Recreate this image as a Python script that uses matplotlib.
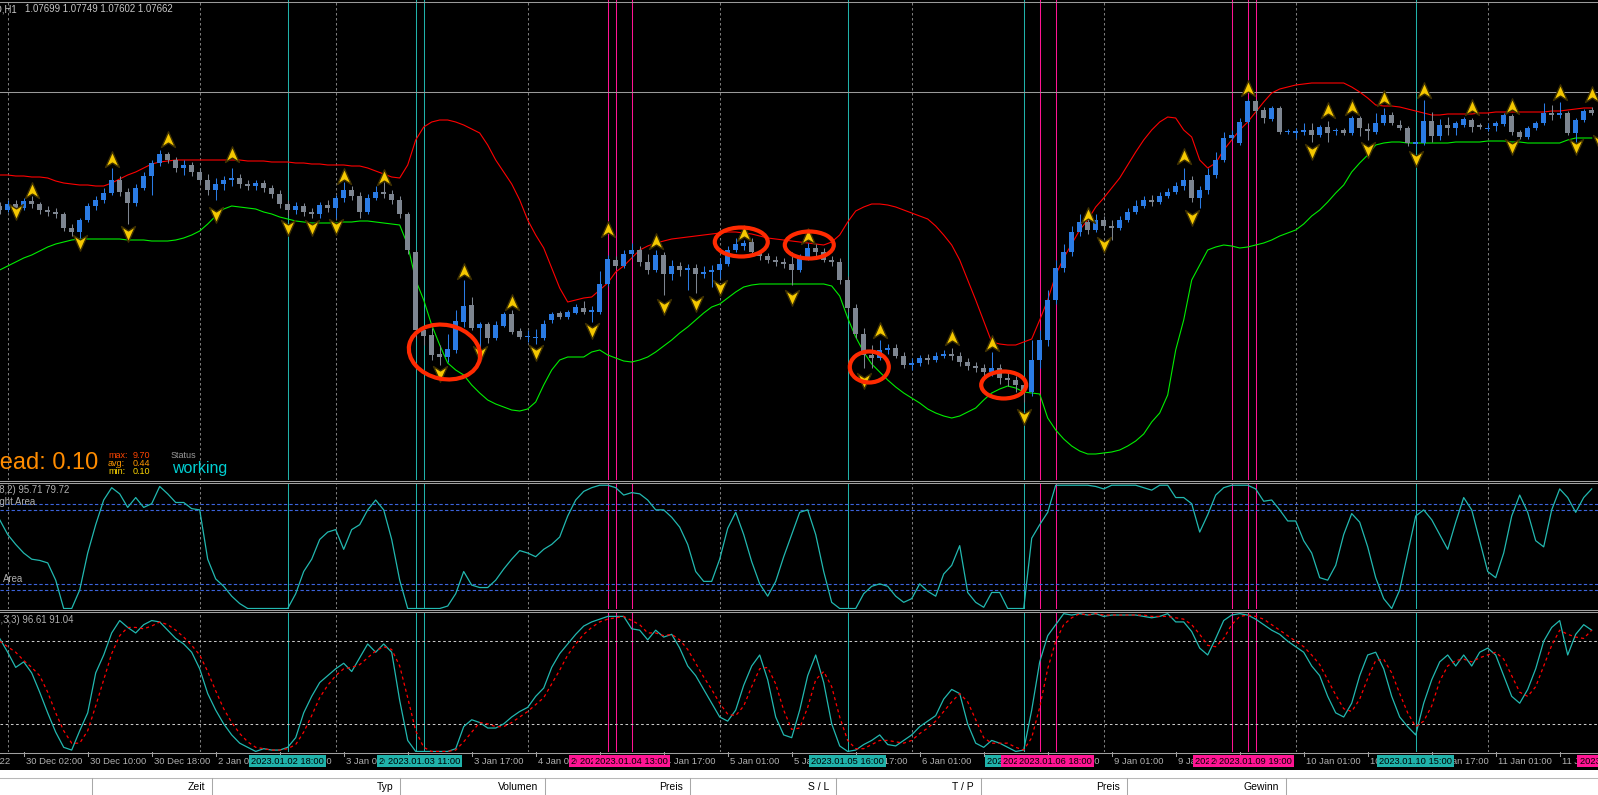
import matplotlib
matplotlib.use("Agg")
import matplotlib.pyplot as plt
import numpy as np
from matplotlib.patches import Rectangle, Ellipse
from matplotlib.lines import Line2D
from matplotlib.path import Path
from matplotlib import transforms

plt.rcParams['font.family'] = ['Liberation Sans', 'DejaVu Sans']

W, H = 1598, 795

# ---------------- data (prices in pips, 1 pip = 0.0001) ----------------
open_pips = [
    10654, 10650, 10656, 10652, 10659, 10656, 10650, 10648, 10646, 10632,
    10628, 10640, 10654, 10660, 10667, 10680, 10668, 10657, 10672, 10684,
    10697, 10706, 10700, 10692, 10695, 10688, 10680, 10670, 10676, 10680,
    10682, 10676, 10674, 10677, 10672, 10666, 10656, 10650, 10654, 10648,
    10646, 10655, 10652, 10662, 10670, 10664, 10648, 10662, 10668, 10666,
    10660, 10646, 10608, 10530, 10525, 10506, 10503, 10510, 10538, 10555,
    10532, 10536, 10522, 10534, 10546, 10529, 10523, 10522, 10522, 10540,
    10547, 10543, 10547, 10552, 10548, 10548, 10576, 10600, 10594, 10606,
    10610, 10598, 10590, 10605, 10586, 10594, 10590, 10592, 10586, 10588,
    10590, 10596, 10610, 10614, 10618, 10608, 10604, 10600, 10598, 10596,
    10590, 10602, 10612, 10608, 10600, 10598, 10580, 10552, 10526, 10505,
    10502, 10510, 10512, 10504, 10495, 10497, 10502, 10500, 10504, 10506,
    10504, 10498, 10494, 10492, 10488, 10492, 10482, 10480, 10475, 10468,
    10500, 10520, 10560, 10592, 10608, 10628, 10638, 10630, 10640, 10634,
    10632, 10640, 10648, 10654, 10660, 10658, 10664, 10668, 10674, 10680,
    10662, 10670, 10685, 10700, 10722, 10717, 10738, 10759, 10750, 10741,
    10752, 10728, 10727, 10728, 10730, 10725, 10733, 10729, 10730, 10727,
    10742, 10731, 10728, 10737, 10745, 10735, 10732, 10716, 10717, 10739,
    10724, 10735, 10732, 10735, 10740, 10735, 10731, 10734, 10736, 10744,
    10728, 10723, 10732, 10737, 10747, 10745, 10747, 10727, 10740, 10750]
high_pips = [
    10658, 10660, 10660, 10662, 10664, 10658, 10654, 10652, 10648, 10636,
    10642, 10657, 10664, 10672, 10692, 10684, 10672, 10676, 10688, 10700,
    10710, 10708, 10703, 10700, 10698, 10692, 10686, 10682, 10684, 10692,
    10686, 10680, 10680, 10680, 10675, 10670, 10660, 10658, 10657, 10652,
    10658, 10660, 10665, 10678, 10674, 10668, 10666, 10674, 10678, 10670,
    10664, 10648, 10610, 10534, 10532, 10515, 10526, 10550, 10580, 10563,
    10538, 10538, 10539, 10548, 10550, 10532, 10530, 10531, 10540, 10548,
    10549, 10550, 10556, 10559, 10554, 10589, 10605, 10604, 10610, 10617,
    10614, 10606, 10610, 10608, 10600, 10598, 10596, 10596, 10594, 10595,
    10602, 10614, 10622, 10620, 10622, 10610, 10607, 10604, 10602, 10608,
    10606, 10617, 10616, 10612, 10604, 10602, 10584, 10556, 10532, 10515,
    10520, 10516, 10516, 10508, 10502, 10505, 10506, 10508, 10510, 10512,
    10508, 10502, 10498, 10496, 10508, 10496, 10488, 10484, 10480, 10520,
    10530, 10570, 10600, 10616, 10634, 10646, 10642, 10646, 10644, 10640,
    10644, 10652, 10660, 10664, 10665, 10668, 10672, 10678, 10692, 10684,
    10674, 10692, 10708, 10728, 10730, 10742, 10761, 10761, 10753, 10754,
    10754, 10731, 10732, 10737, 10737, 10735, 10739, 10732, 10732, 10744,
    10744, 10737, 10747, 10752, 10748, 10740, 10734, 10720, 10760, 10748,
    10741, 10743, 10739, 10743, 10742, 10737, 10737, 10739, 10747, 10746,
    10730, 10734, 10739, 10757, 10755, 10758, 10749, 10742, 10751, 10753]
low_pips = [
    10646, 10648, 10648, 10650, 10652, 10646, 10644, 10642, 10629, 10624,
    10622, 10638, 10650, 10657, 10665, 10664, 10636, 10654, 10670, 10665,
    10694, 10697, 10688, 10685, 10684, 10676, 10665, 10660, 10670, 10674,
    10672, 10670, 10670, 10668, 10662, 10652, 10644, 10646, 10644, 10642,
    10642, 10648, 10642, 10658, 10660, 10642, 10646, 10660, 10662, 10656,
    10642, 10606, 10522, 10515, 10500, 10495, 10498, 10507, 10533, 10530,
    10503, 10517, 10520, 10533, 10526, 10521, 10518, 10516, 10520, 10537,
    10541, 10541, 10546, 10546, 10538, 10546, 10574, 10592, 10592, 10602,
    10594, 10586, 10588, 10565, 10580, 10584, 10570, 10567, 10582, 10573,
    10582, 10594, 10608, 10610, 10605, 10600, 10597, 10594, 10592, 10575,
    10588, 10600, 10604, 10598, 10594, 10576, 10548, 10522, 10492, 10492,
    10500, 10506, 10502, 10492, 10490, 10494, 10496, 10498, 10502, 10500,
    10494, 10490, 10488, 10484, 10484, 10476, 10474, 10468, 10458, 10464,
    10492, 10514, 10556, 10588, 10604, 10624, 10626, 10628, 10630, 10620,
    10630, 10638, 10646, 10652, 10654, 10656, 10662, 10666, 10670, 10658,
    10652, 10666, 10682, 10698, 10720, 10715, 10736, 10746, 10737, 10739,
    10726, 10726, 10722, 10725, 10718, 10723, 10718, 10725, 10725, 10725,
    10724, 10720, 10726, 10735, 10735, 10730, 10714, 10714, 10715, 10718,
    10720, 10725, 10725, 10733, 10728, 10731, 10729, 10729, 10734, 10725,
    10721, 10721, 10730, 10735, 10740, 10742, 10725, 10718, 10738, 10745]
close_pips = [
    10650, 10656, 10652, 10659, 10656, 10650, 10648, 10646, 10632, 10628,
    10640, 10654, 10660, 10667, 10680, 10668, 10657, 10672, 10684, 10697,
    10706, 10700, 10692, 10695, 10688, 10680, 10670, 10676, 10680, 10682,
    10676, 10674, 10677, 10672, 10666, 10656, 10650, 10654, 10648, 10646,
    10655, 10652, 10662, 10670, 10664, 10648, 10662, 10668, 10666, 10660,
    10646, 10610, 10530, 10524, 10505, 10503, 10511, 10539, 10554, 10532,
    10536, 10522, 10535, 10546, 10528, 10523, 10523, 10522, 10536, 10546,
    10543, 10548, 10553, 10548, 10550, 10576, 10601, 10594, 10606, 10610,
    10598, 10590, 10605, 10586, 10594, 10590, 10592, 10586, 10588, 10590,
    10596, 10610, 10616, 10617, 10608, 10604, 10600, 10598, 10596, 10590,
    10602, 10612, 10608, 10600, 10598, 10580, 10552, 10526, 10505, 10502,
    10510, 10512, 10504, 10495, 10497, 10502, 10500, 10504, 10506, 10504,
    10498, 10494, 10492, 10488, 10492, 10482, 10480, 10475, 10468, 10500,
    10520, 10560, 10592, 10608, 10628, 10638, 10630, 10640, 10634, 10632,
    10640, 10648, 10654, 10660, 10658, 10664, 10668, 10674, 10680, 10662,
    10670, 10685, 10700, 10722, 10725, 10738, 10759, 10749, 10742, 10752,
    10728, 10729, 10729, 10730, 10725, 10733, 10727, 10730, 10727, 10742,
    10732, 10729, 10737, 10745, 10737, 10732, 10717, 10718, 10739, 10724,
    10735, 10732, 10737, 10741, 10733, 10733, 10732, 10737, 10745, 10728,
    10723, 10732, 10737, 10747, 10745, 10747, 10727, 10740, 10749, 10747]
upper_band = [
    10685, 10685, 10684, 10684, 10683, 10683, 10682, 10679, 10677, 10676,
    10675, 10675, 10674, 10674, 10677, 10681, 10685, 10688, 10692, 10696,
    10698, 10699, 10700, 10700, 10700, 10700, 10700, 10700, 10700, 10700,
    10700, 10699, 10699, 10699, 10698, 10698, 10698, 10697, 10697, 10696,
    10696, 10695, 10695, 10695, 10694, 10694, 10692, 10689, 10686, 10683,
    10682, 10695, 10720, 10733, 10738, 10740, 10740, 10738, 10735, 10731,
    10727, 10715, 10700, 10688, 10676, 10660, 10640, 10625, 10612, 10592,
    10572, 10558, 10560, 10562, 10563, 10570, 10577, 10588, 10594, 10602,
    10610, 10614, 10617, 10619, 10621, 10622, 10623, 10624, 10625, 10626,
    10627, 10628, 10628, 10627, 10626, 10624, 10622, 10621, 10620, 10619,
    10618, 10617, 10616, 10615, 10618, 10625, 10638, 10649, 10653, 10656,
    10656, 10655, 10653, 10650, 10647, 10644, 10641, 10634, 10625, 10615,
    10600, 10580, 10560, 10539, 10518, 10516, 10515, 10515, 10518, 10521,
    10540, 10560, 10585, 10602, 10616, 10630, 10640, 10653, 10662, 10672,
    10682, 10695, 10708, 10720, 10730, 10738, 10743, 10742, 10730, 10723,
    10700, 10692, 10697, 10710, 10720, 10730, 10738, 10748, 10758, 10767,
    10771, 10773, 10775, 10776, 10777, 10777, 10777, 10777, 10777, 10773,
    10768, 10762, 10755, 10754, 10754, 10753, 10751, 10749, 10747, 10745,
    10745, 10746, 10746, 10746, 10746, 10747, 10747, 10748, 10748, 10748,
    10748, 10748, 10748, 10748, 10749, 10749, 10750, 10751, 10752, 10752]
lower_band = [
    10590, 10594, 10598, 10602, 10605, 10609, 10613, 10616, 10618, 10620,
    10621, 10621, 10621, 10621, 10621, 10621, 10620, 10620, 10620, 10619,
    10619, 10619, 10620, 10622, 10625, 10629, 10636, 10644, 10651, 10654,
    10653, 10652, 10651, 10648, 10646, 10643, 10641, 10639, 10638, 10637,
    10637, 10637, 10637, 10638, 10638, 10639, 10639, 10638, 10637, 10636,
    10635, 10615, 10580, 10560, 10535, 10515, 10497, 10490, 10485, 10475,
    10467, 10460, 10456, 10453, 10450, 10449, 10451, 10458, 10475, 10490,
    10500, 10503, 10503, 10503, 10508, 10510, 10505, 10502, 10499, 10498,
    10500, 10503, 10508, 10514, 10520, 10527, 10533, 10540, 10547, 10553,
    10556, 10562, 10568, 10573, 10575, 10576, 10576, 10576, 10576, 10576,
    10576, 10576, 10576, 10576, 10574, 10564, 10542, 10523, 10508, 10496,
    10488, 10480, 10473, 10467, 10462, 10457, 10451, 10447, 10444, 10442,
    10444, 10448, 10452, 10460, 10467, 10471, 10474, 10472, 10468, 10467,
    10466, 10442, 10430, 10421, 10414, 10409, 10406, 10406, 10407, 10408,
    10410, 10414, 10419, 10426, 10438, 10447, 10465, 10510, 10540, 10580,
    10595, 10610, 10613, 10615, 10614, 10612, 10613, 10615, 10617, 10620,
    10624, 10627, 10630, 10636, 10644, 10650, 10658, 10667, 10675, 10688,
    10697, 10705, 10715, 10717, 10718, 10718, 10717, 10717, 10717, 10717,
    10717, 10717, 10718, 10718, 10718, 10718, 10719, 10719, 10719, 10718,
    10718, 10717, 10717, 10717, 10717, 10717, 10720, 10722, 10722, 10722]

# oscillator in the first sub window (0..100)
osc1 = [
    72, 60, 52, 45, 40, 39, 37, 23, 0, 0, 15, 45, 68, 88, 98, 93, 82, 90, 82, 85,
    99, 93, 86, 86, 81, 80, 40, 24, 18, 10, 4, 0, 0, 0, 0, 0, 0, 12, 30, 40,
    56, 62, 64, 48, 64, 68, 80, 88, 80, 56, 23, 0, 0, 0, 0, 0, 2, 12, 30, 19,
    17, 17, 23, 32, 40, 47, 45, 42, 48, 52, 58, 75, 88, 95, 98, 100, 100, 98, 92, 94,
    93, 88, 80, 80, 74, 66, 52, 30, 22, 22, 40, 65, 78, 60, 38, 20, 10, 22, 42, 60,
    78, 80, 60, 30, 5, 0, 0, 0, 12, 18, 20, 18, 10, 5, 8, 20, 14, 10, 28, 35,
    51, 13, 5, 1, 13, 13, 0, 0, 0, 57, 68, 78, 100, 100, 100, 100, 100, 99, 97, 100,
    100, 100, 100, 98, 96, 100, 100, 90, 90, 85, 62, 76, 92, 98, 100, 100, 100, 97, 87, 88,
    80, 71, 71, 55, 45, 25, 23, 35, 60, 77, 70, 50, 25, 8, 0, 15, 45, 75, 80, 72,
    60, 48, 70, 90, 80, 55, 30, 25, 45, 75, 92, 78, 55, 50, 80, 97, 90, 78, 90, 97]
osc1_levels = [85, 80, 20, 15]

# stochastic in the second sub window
stoch_k = [
    82, 72, 61, 65, 57, 43, 28, 14, 3, 1, 15, 28, 57, 70, 86, 95, 90, 86, 92, 95,
    94, 88, 82, 78, 72, 60, 42, 30, 20, 12, 6, 3, 0, 2, 1, 1, 3, 10, 28, 40,
    50, 55, 60, 64, 58, 68, 78, 72, 78, 72, 37, 8, 0, 0, 0, 0, 0, 2, 18, 23,
    21, 17, 17, 20, 25, 29, 32, 40, 46, 61, 71, 78, 85, 91, 94, 96, 98, 98, 98, 89,
    88, 81, 88, 83, 85, 75, 62, 55, 45, 35, 25, 22, 30, 48, 62, 70, 52, 25, 12, 10,
    30, 55, 70, 50, 20, 4, 0, 1, 5, 8, 12, 5, 4, 8, 12, 18, 22, 26, 38, 45,
    42, 20, 6, 3, 8, 6, 3, 0, 1, 30, 65, 84, 92, 100, 99, 100, 99, 100, 98, 99,
    99, 99, 99, 98, 97, 98, 100, 94, 94, 87, 75, 70, 82, 95, 99, 100, 99, 96, 92, 88,
    85, 80, 76, 72, 62, 55, 40, 28, 25, 35, 55, 70, 72, 60, 40, 25, 18, 12, 35, 52,
    65, 70, 62, 70, 62, 72, 75, 70, 55, 40, 35, 45, 60, 80, 90, 95, 70, 85, 92, 88]
stoch_d = [
    80, 76, 72, 66, 61, 55, 43, 28, 15, 6, 6, 15, 33, 52, 71, 84, 90, 90, 89, 91,
    94, 92, 88, 83, 77, 70, 58, 44, 31, 21, 13, 7, 3, 2, 1, 1, 2, 5, 14, 26,
    39, 48, 55, 60, 61, 63, 68, 73, 76, 74, 62, 39, 15, 3, 0, 0, 0, 1, 7, 14,
    21, 20, 18, 18, 21, 25, 29, 34, 39, 49, 59, 70, 78, 85, 90, 94, 96, 97, 98, 95,
    92, 86, 86, 84, 85, 81, 74, 64, 54, 45, 35, 27, 26, 33, 47, 60, 61, 49, 30, 16,
    17, 32, 52, 58, 47, 25, 8, 2, 2, 5, 8, 8, 7, 6, 8, 13, 17, 22, 29, 36,
    42, 36, 23, 10, 6, 6, 6, 3, 1, 10, 32, 60, 80, 92, 97, 100, 99, 100, 99, 99,
    99, 99, 99, 99, 98, 98, 98, 97, 96, 92, 85, 77, 76, 82, 92, 98, 99, 98, 96, 92,
    88, 84, 80, 76, 70, 63, 52, 41, 31, 29, 38, 53, 66, 67, 57, 42, 28, 18, 22, 33,
    51, 62, 66, 67, 65, 68, 70, 72, 67, 55, 43, 40, 47, 62, 77, 88, 85, 83, 82, 88]
stoch_levels = [80, 20]

# signal arrows (bar index, price in pips)
up_bars = [4, 14, 21, 29, 43, 48, 58, 64, 76, 82, 93, 101, 110, 119, 124, 136,
           148, 156, 166, 169, 173, 178, 184, 189, 195, 199]
up_pips = [10669, 10700, 10720, 10705, 10683, 10682, 10588, 10557, 10630, 10618,
           10626, 10623, 10529, 10522, 10516, 10644, 10703, 10771, 10749, 10752,
           10761, 10769, 10752, 10753, 10767, 10765]
down_bars = [2, 10, 16, 27, 36, 39, 42, 55, 60, 67, 74, 83, 87, 90, 99, 108, 128,
             138, 149, 164, 171, 177, 189, 197, 200]
down_pips = [10649, 10618, 10627, 10646, 10633, 10633, 10634, 10487, 10507, 10508,
             10530, 10554, 10557, 10573, 10563, 10480, 10444, 10616, 10643, 10709,
             10711, 10702, 10714, 10714, 10718]

# hand-drawn red circles: bar, price (pips), width px, height px, angle
circles = [(55.6, 10508, 72, 54, -12), (92.7, 10618, 53, 29, 0),
           (101.2, 10615, 49, 27, 0), (108.7, 10493, 39, 31, 0),
           (125.5, 10475, 45, 27, 0)]

# vertical line objects (bar index, label, colour)
vlines_obj = [
    (36, "2023.01.02 18:00", "teal"), (52, "2023.01.03 10:00", "teal"),
    (53, "2023.01.03 11:00", "teal"), (76, "2023.01.04 10:00", "pink"),
    (77, "2023.01.04 11:00", "pink"), (79, "2023.01.04 13:00", "pink"),
    (106, "2023.01.05 16:00", "teal"), (128, "2023.01.06 14:00", "teal"),
    (130, "2023.01.06 16:00", "pink"), (132, "2023.01.06 18:00", "pink"),
    (154, "2023.01.09 16:00", "pink"), (156, "2023.01.09 18:00", "pink"),
    (157, "2023.01.09 19:00", "pink"), (177, "2023.01.10 15:00", "teal"),
    (202, "2023.01.11 16:00", "pink")]

day_starts = [1, 25, 42, 66, 90, 114, 138, 162, 186]

tick_bars = [3, 11, 19, 27, 35, 43, 51, 59, 67, 75, 83, 91, 99, 107, 115, 123,
             131, 139, 147, 155, 163, 171, 179, 187, 195]
tick_labels = ["30 Dec 02:00", "30 Dec 10:00", "30 Dec 18:00", "2 Jan 09:00",
               "2 Jan 17:00", "3 Jan 01:00", "3 Jan 09:00", "3 Jan 17:00",
               "4 Jan 01:00", "4 Jan 09:00", "4 Jan 17:00", "5 Jan 01:00",
               "5 Jan 09:00", "5 Jan 17:00", "6 Jan 01:00", "6 Jan 09:00",
               "6 Jan 17:00", "9 Jan 01:00", "9 Jan 09:00", "9 Jan 17:00",
               "10 Jan 01:00", "10 Jan 09:00", "10 Jan 17:00", "11 Jan 01:00",
               "11 Jan 09:00"]

table_cols = ["Zeit", "Typ", "Volumen", "Preis", "S / L", "T / P", "Preis", "Gewinn"]
table_seps = [92, 212, 400, 545, 690, 836, 981, 1127, 1286]

# ---------------- styling ----------------
BULL = '#2A7BE4'
BEAR = '#7D8590'
TEAL = '#20B2AA'
PINK = '#FF1493'
CYAN = '#22B8B0'
GRID = '#7A7A7A'
SEP = '#A0A0A0'
TXT = '#B0B0B0'

X0, X1 = 0.3 / 8, (W + 0.3) / 8


def fx(x):
    return x / W


def fy(y):
    return 1 - y / H


fig = plt.figure(figsize=(W / 100, H / 100), dpi=100)
fig.patch.set_facecolor('black')


def panel(top, bottom):
    a = fig.add_axes([0, 1 - bottom / H, 1, (bottom - top) / H])
    a.set_facecolor('black')
    a.set_xlim(X0, X1)
    a.set_xticks([])
    a.set_yticks([])
    for s in a.spines.values():
        s.set_visible(False)
    return a


ax = panel(0, 480)
ax1 = panel(483, 609)
ax2 = panel(612, 752)
axt = panel(752, 770)

ax.set_ylim(1.0380, 1.0860)
ax1.set_ylim(-0.4, 101.8)
ax2.set_ylim(-0.4, 101.2)
axt.set_ylim(0, 1)

# grid / object lines in all three windows
for a in (ax, ax1, ax2):
    for b in day_starts:
        a.axvline(b, color=GRID, lw=0.75, ls=(0, (2.4, 2.4)), zorder=1)
    for b, _, kind in vlines_obj:
        a.axvline(b, color=TEAL if kind == "teal" else PINK, lw=0.75, zorder=1)

# ---- main window ----
o = np.array(open_pips) / 10000
h = np.array(high_pips) / 10000
l = np.array(low_pips) / 10000
c = np.array(close_pips) / 10000
x = np.arange(len(c))
cols = np.where(c >= o, BULL, BEAR)
ax.vlines(x, l, h, colors=cols, lw=0.75, zorder=3)
body = np.maximum(np.abs(c - o), 0.00009)
ax.bar(x, body, bottom=np.minimum(o, c), width=0.64, color=cols, lw=0, zorder=3)

ax.plot(x, np.array(upper_band) / 10000, color='#FF0000', lw=0.8, zorder=2)
ax.plot(x, np.array(lower_band) / 10000, color='#00EE00', lw=0.8, zorder=2)

ax.axhline(1.0768, color='#9A9A9A', lw=0.75, zorder=1)
ax.axhline(1.0858, color='#9A9A9A', lw=0.75, zorder=1)

up_path = Path([(0, 1), (0.8, -0.8), (0, -0.3), (-0.8, -0.8), (0, 1)],
               [Path.MOVETO, Path.LINETO, Path.LINETO, Path.LINETO, Path.CLOSEPOLY])
down_path = Path([(0, -1), (0.8, 0.8), (0, 0.3), (-0.8, 0.8), (0, -1)],
                 [Path.MOVETO, Path.LINETO, Path.LINETO, Path.LINETO, Path.CLOSEPOLY])
ax.plot(up_bars, np.array(up_pips) / 10000, ls='none', marker=up_path, ms=12.5,
        mfc='#F5C800', mec='#3E3000', mew=1.0, zorder=5)
ax.plot(down_bars, np.array(down_pips) / 10000, ls='none', marker=down_path, ms=12.5,
        mfc='#F5C800', mec='#3E3000', mew=1.0, zorder=5)

for b, p, w, hh, ang in circles:
    t = fig.dpi_scale_trans + transforms.ScaledTranslation(b, p / 10000, ax.transData)
    e = Ellipse((0, 0), w / 100, hh / 100, angle=ang, transform=t, fill=False,
                ec='#FF2A00', lw=3.0, zorder=6)
    ax.add_patch(e)

# ---- sub window 1 ----
for lv in osc1_levels:
    ax1.axhline(lv, color='#3C64DC', lw=0.8, ls=(0, (3, 2)), zorder=1)
ax1.plot(x, osc1, color=CYAN, lw=0.9, zorder=3)

# ---- sub window 2 ----
for lv in stoch_levels:
    ax2.axhline(lv, color='#C8C8C8', lw=0.75, ls=(0, (2.5, 2.5)), zorder=1)
ax2.plot(x, stoch_k, color=CYAN, lw=0.9, zorder=3)
ax2.plot(x, stoch_d, color='#FF0000', lw=0.9, ls=(0, (2.5, 2.5)), zorder=3)

# ---- separators ----
for yy in (480.5, 482.5, 609.5, 611.5, 752.5):
    fig.add_artist(Line2D([0, 1], [fy(yy), fy(yy)], color=SEP, lw=0.75))

# ---- time axis ----
xt = axt.get_xaxis_transform()
for b, s in zip(tick_bars, tick_labels):
    axt.plot([b, b], [0.78, 1.0], color=SEP, lw=0.75, transform=xt)
    axt.text(b + 0.35, 0.47, s, transform=xt, color=TXT, fontsize=6.8,
             ha='left', va='center', clip_on=True)
axt.text(1.29, 0.47, "29 Dec 2022", transform=xt, color=TXT, fontsize=6.8,
         ha='right', va='center', clip_on=True)
for k, (b, s, kind) in enumerate(vlines_obj):
    z = 10 + 2 * k
    axt.add_patch(Rectangle((b - 4.8, 0.17), 9.6, 0.66, transform=xt,
                            fc=TEAL if kind == "teal" else PINK, ec='none',
                            zorder=z, clip_on=True))
    axt.text(b, 0.48, s, transform=xt, color='black', fontsize=6.7, ha='center',
             va='center', zorder=z + 1, clip_on=True)

# ---- terminal table header ----
fig.add_artist(Rectangle((0, 0), 1, fy(770), transform=fig.transFigure,
                         fc='white', ec='none'))
fig.add_artist(Line2D([0, 1], [fy(777.5), fy(777.5)], color='#B8B8B8', lw=0.75))
for sx in table_seps:
    fig.add_artist(Line2D([fx(sx), fx(sx)], [fy(778), fy(795)], color='#A8A8A8', lw=0.75))
for name, sx in zip(table_cols, table_seps[1:]):
    fig.text(fx(sx - 7), fy(787), name, ha='right', va='center', color='black',
             fontsize=7.5)

# ---- chart texts ----
fig.text(fx(17), fy(9), "EURUSD,H1", ha='right', va='center', color='#C8C8C8',
         fontsize=6.9)
fig.text(fx(25), fy(9), "1.07699 1.07749 1.07602 1.07662", ha='left',
         va='center', color='#C8C8C8', fontsize=6.9)
fig.text(fx(69), fy(490), "(3,8,2) 95.71 79.72", ha='right', va='center',
         color=TXT, fontsize=6.9)
fig.text(fx(35), fy(502), "Light Area", ha='right', va='center', color=TXT, fontsize=6.9)
fig.text(fx(3), fy(579), "Area", ha='left', va='center', color=TXT, fontsize=6.9)
fig.text(fx(73), fy(620), "(5,3,3) 96.61 91.04", ha='right', va='center',
         color=TXT, fontsize=6.9)

fig.text(fx(98), fy(463), "Spread: 0.10", ha='right', va='center', color='#FF8C00',
         fontsize=17)
for yy, lab, val, col in [(456, "max:", "9.70", '#FF4500'),
                          (464, "avg:", "0.44", '#FF9900'),
                          (472, "min:", "0.10", '#FFD700')]:
    fig.text(fx(108), fy(yy), lab, ha='left', va='center', color=col, fontsize=6.5)
    fig.text(fx(133), fy(yy), val, ha='left', va='center', color=col, fontsize=6.5)
fig.text(fx(171), fy(455), "Status", ha='left', va='center', color='#9A9A9A', fontsize=6.5)
fig.text(fx(172), fy(469), "working", ha='left', va='center', color='#00CED1',
         fontsize=11.5)

fig.savefig("out.png", dpi=100, facecolor='black')
